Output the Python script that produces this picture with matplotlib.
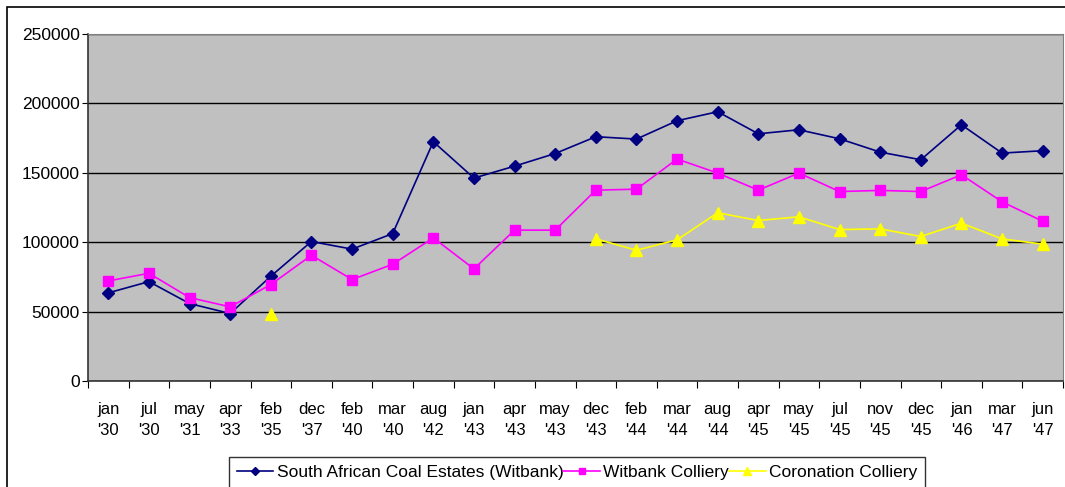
import matplotlib.pyplot as plt
import numpy as np
from matplotlib.patches import Rectangle

plt.rcParams['font.family'] = ['Liberation Sans', 'DejaVu Sans']

# Category labels (month / year)
months = ['jan', 'jul', 'may', 'apr', 'feb', 'dec', 'feb', 'mar', 'aug', 'jan', 'apr', 'may',
          'dec', 'feb', 'mar', 'aug', 'apr', 'may', 'jul', 'nov', 'dec', 'jan', 'mar', 'jun']
years = ["'30", "'30", "'31", "'33", "'35", "'37", "'40", "'40", "'42", "'43", "'43", "'43",
         "'43", "'44", "'44", "'44", "'45", "'45", "'45", "'45", "'45", "'46", "'47", "'47"]

# Series values
sace = [63500, 71600, 55800, 48600, 75500, 100500, 95000, 106200, 172400, 146200, 154800, 163900,
        176000, 174300, 187500, 194000, 178100, 181000, 174500, 164900, 159400, 184600, 164200, 165900]
witbank = [72100, 77600, 60100, 53400, 69500, 90600, 73100, 84100, 103100, 80800, 108700, 108700,
           137500, 138200, 159900, 149800, 137500, 149800, 136500, 137300, 136500, 148600, 129100, 115100]
coronation = [np.nan, np.nan, np.nan, np.nan, 48600, np.nan, np.nan, np.nan, np.nan, np.nan, np.nan, np.nan,
              102400, 94200, 101700, 121200, 115600, 118300, 109100, 109600, 104100, 113700, 102400, 98600]

labels = [m + '\n' + y for m, y in zip(months, years)]
x = np.arange(len(labels)) + 0.5

fig = plt.figure(figsize=(10.65, 4.87), dpi=100)
fig.patches.append(Rectangle((7 / 1065, -0.1), 1.2, 1 - 7 / 487 + 0.1, transform=fig.transFigure,
                             fill=False, edgecolor='black', linewidth=1.2))

ax = fig.add_axes([88 / 1065, 1 - 381 / 487, 975 / 1065, 347 / 487])
ax.set_facecolor('#C0C0C0')

ax.plot(x, sace, color='#000080', marker='D', markersize=6, linewidth=1.2,
        label='South African Coal Estates (Witbank)')
ax.plot(x, witbank, color='#FF00FF', marker='s', markersize=6.5, linewidth=1.2,
        label='Witbank Colliery')
ax.plot(x, coronation, color='#FFFF00', marker='^', markersize=8, linewidth=1.2,
        label='Coronation Colliery')

ax.set_xlim(0, len(labels))
ax.set_ylim(0, 250000)
ax.set_yticks(np.arange(0, 250001, 50000))
ax.yaxis.grid(True, color='black', linewidth=1)
ax.set_axisbelow(True)

ax.set_xticks(np.arange(0, len(labels) + 1))
ax.set_xticklabels([])
ax.set_xticks(x, minor=True)
ax.set_xticklabels(labels, minor=True, fontsize=12, linespacing=1.55)
ax.tick_params(axis='x', which='minor', length=0, pad=15)
ax.tick_params(axis='x', which='major', length=5, direction='out')
ax.tick_params(axis='y', length=4, direction='out', labelsize=12.5, pad=2)

for side in ['top', 'right']:
    ax.spines[side].set_color('#808080')
for side in ['left', 'bottom']:
    ax.spines[side].set_color('#333333')
    ax.spines[side].set_linewidth(1.2)

leg = fig.legend(loc='upper center', bbox_to_anchor=(577 / 1065, 1 - 457 / 487), ncol=3,
                 fontsize=12.5, frameon=True, fancybox=False, edgecolor='black',
                 handlelength=2.1, handletextpad=0.2, columnspacing=0.0, borderpad=0.45,
                 borderaxespad=0, markerscale=0.7)
leg.get_frame().set_linewidth(1)

fig.savefig('out.png', dpi=100)
